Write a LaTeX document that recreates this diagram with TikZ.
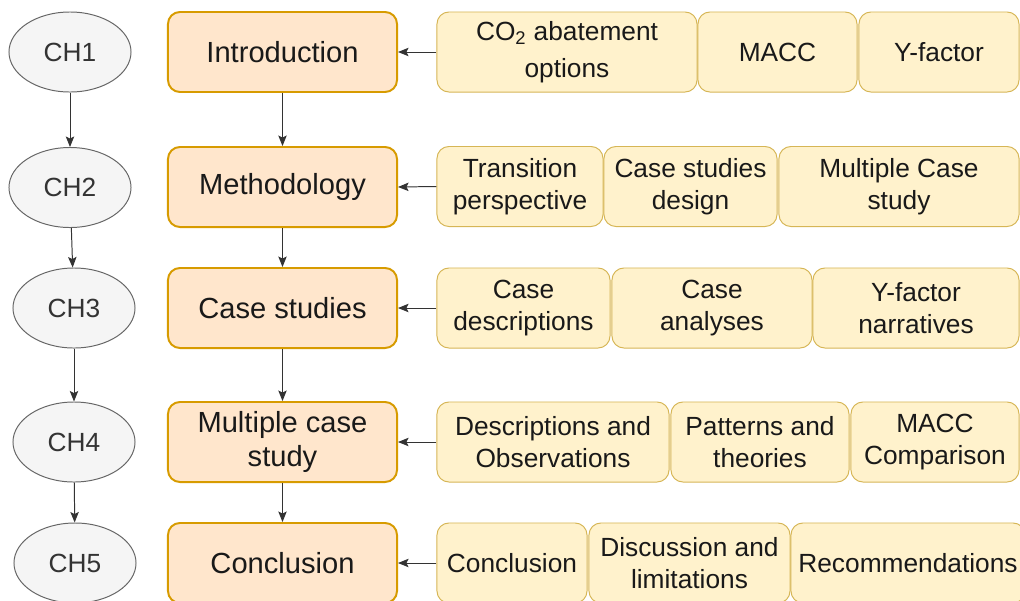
\documentclass[tikz,border=0pt]{standalone}
\usepackage{fontspec}
\setmainfont{Liberation Sans}
\usetikzlibrary{shapes.geometric, arrows.meta, positioning}
\definecolor{naranjaFondo}{HTML}{FFE6CC}
\definecolor{naranjaBorde}{HTML}{D79B00}
\definecolor{amarilloFondo}{HTML}{FFF2CC}
\definecolor{amarilloBorde}{HTML}{D6B656}
\definecolor{grisFondo}{HTML}{F5F5F5}
\definecolor{grisBorde}{HTML}{666666}
\definecolor{grisTexto}{HTML}{333333}

\begin{document}
\begin{tikzpicture}[x=0.025cm, y=-0.025cm,
    capitulo/.style={ellipse, draw=grisBorde, fill=grisFondo, line width=0.7pt, text=grisTexto,
        minimum width=3.05cm, minimum height=2cm, inner sep=0pt, font=\fontsize{18.7}{22.6}\selectfont},
    tema/.style={draw=naranjaBorde, fill=naranjaFondo, line width=1.4pt, rounded corners=8.5pt,
        minimum width=5.725cm, minimum height=2cm, align=center, text=black!90,
        font=\fontsize{20.7}{24.3}\selectfont},
    bloque/.style={draw=amarilloBorde, fill=amarilloFondo, line width=0.7pt, rounded corners=8.5pt,
        minimum height=2cm, inner sep=1pt, align=center, text=black!90,
        font=\fontsize{18.7}{22.6}\selectfont},
    flecha/.style={-{Stealth[length=7.5pt, width=6pt, inset=1.5pt]}, line width=0.7pt, black!80}]
    \useasboundingbox (0,0) rectangle (1020,600);

    % Capitulos
    \node[capitulo] (ch1) at (70,52) {CH1};
    \node[capitulo] (ch2) at (70,187.5) {CH2};
    \node[capitulo] (ch3) at (74,308) {CH3};
    \node[capitulo] (ch4) at (74,442) {CH4};
    \node[capitulo] (ch5) at (75,563) {CH5};

    % Temas principales
    \node[tema] (intro) at (282.5,52) {Introduction};
    \node[tema] (metodo) at (282.5,187) {Methodology};
    \node[tema] (casos) at (282.5,308) {Case studies};
    \node[tema] (multiple) at (282.5,442) {Multiple case\\study};
    \node[tema] (conclu) at (282.5,563) {Conclusion};

    % Bloques de contenido
    \node[bloque, minimum width=6.5cm] (co) at (567,52) {CO\textsubscript{2} abatement\\[4pt]options};
    \node[bloque, minimum width=3.975cm] (macc) at (777.5,52) {MACC};
    \node[bloque, minimum width=4cm] (yfac) at (939,52) {Y-factor};

    \node[bloque, minimum width=4.15cm] (trans) at (520,186.5) {Transition\\perspective};
    \node[bloque, minimum width=4.325cm] (diseno) at (690.5,186.5) {Case studies\\design};
    \node[bloque, minimum width=6cm] (mcs) at (899,186.5) {Multiple Case\\study};

    \node[bloque, minimum width=4.325cm] (descr) at (523.5,308) {Case\\descriptions};
    \node[bloque, minimum width=5cm] (anal) at (712,308) {Case\\analyses};
    \node[bloque, minimum width=5.15cm] (narr) at (916,308) {Y-factor\\narratives};

    \node[bloque, minimum width=5.8cm] (obs) at (553,442) {Descriptions and\\Observations};
    \node[bloque, minimum width=4.45cm] (patr) at (760,442) {Patterns and\\theories};
    \node[bloque, minimum width=4.2cm] (comp) at (935,442) {MACC\\Comparison};

    \node[bloque, minimum width=3.75cm] (concl) at (512,563) {Conclusion};
    \node[bloque, minimum width=5.025cm] (disc) at (689.5,563) {Discussion and\\limitations};
    \node[bloque, minimum width=5.85cm] (recom) at (908,563) {Recommendations};

    % Flechas verticales
    \draw[flecha] (ch1) -- (ch2);
    \draw[flecha] (ch2) -- (ch3);
    \draw[flecha] (ch3) -- (ch4);
    \draw[flecha] (ch4) -- (ch5);
    \draw[flecha] (intro) -- (metodo);
    \draw[flecha] (metodo) -- (casos);
    \draw[flecha] (casos) -- (multiple);
    \draw[flecha] (multiple) -- (conclu);

    % Flechas horizontales
    \draw[flecha] (co.west) -- (intro.east);
    \draw[flecha] (trans.west) -- (metodo.east);
    \draw[flecha] (descr.west) -- (casos.east);
    \draw[flecha] (obs.west) -- (multiple.east);
    \draw[flecha] (concl.west) -- (conclu.east);
\end{tikzpicture}
\end{document}
